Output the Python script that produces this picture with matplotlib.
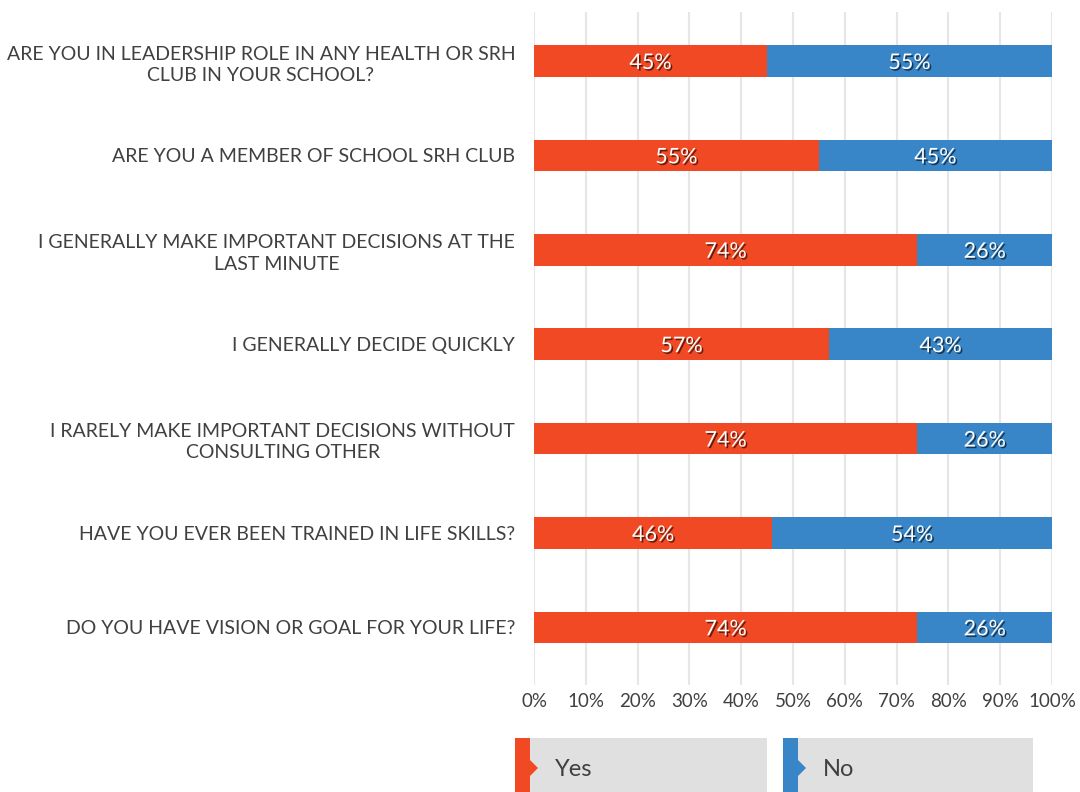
import numpy as np
import matplotlib.pyplot as plt
import matplotlib.patheffects as pe
from matplotlib.patches import Rectangle, Polygon

# --- Dados ---
questions = [
    'ARE YOU IN LEADERSHIP ROLE IN ANY HEALTH OR SRH\nCLUB IN YOUR SCHOOL?',
    'ARE YOU A MEMBER OF SCHOOL SRH CLUB',
    'I GENERALLY MAKE IMPORTANT DECISIONS AT THE\nLAST MINUTE',
    'I GENERALLY DECIDE QUICKLY',
    'I RARELY MAKE IMPORTANT DECISIONS WITHOUT\nCONSULTING OTHER',
    'HAVE YOU EVER BEEN TRAINED IN LIFE SKILLS?',
    'DO YOU HAVE VISION OR GOAL FOR YOUR LIFE?',
]
yes_pct = [45, 55, 74, 57, 74, 46, 74]
no_pct = [55, 45, 26, 43, 26, 54, 26]
series_names = ['Yes', 'No']
x_ticks = [0, 10, 20, 30, 40, 50, 60, 70, 80, 90, 100]

RED = '#F04923'
BLUE = '#3886C8'
TEXT = '#404040'
W, H = 1080, 792

plt.rcParams['font.family'] = ['Lato', 'DejaVu Sans']

fig = plt.figure(figsize=(W / 100, H / 100), dpi=100)
ax = fig.add_axes([534 / W, 1 - 685 / H, (1052 - 534) / W, (685 - 12) / H])

y = np.arange(len(questions))
bar_h = 0.335
ax.barh(y, yes_pct, height=bar_h, color=RED, zorder=3)
ax.barh(y, no_pct, left=yes_pct, height=bar_h, color=BLUE, zorder=3)

shadow = [pe.SimplePatchShadow(offset=(1.2, -1.2), shadow_rgbFace='black', alpha=0.6), pe.Normal()]
for i in range(len(questions)):
    ax.text(yes_pct[i] / 2, y[i] + 0.02, f'{yes_pct[i]}%', ha='center', va='center',
            color='white', fontsize=15.5, path_effects=shadow, zorder=4)
    ax.text(yes_pct[i] + no_pct[i] / 2, y[i] + 0.02, f'{no_pct[i]}%', ha='center', va='center',
            color='white', fontsize=15.5, path_effects=shadow, zorder=4)

ax.set_xlim(0, 100)
ax.set_ylim(len(questions) - 1 + 0.61, -0.52)
ax.set_xticks(x_ticks)
ax.set_xticklabels([f'{t}%' for t in x_ticks], fontsize=13.5, color=TEXT)
ax.set_yticks(y)
ax.set_yticklabels(questions, fontsize=14, color=TEXT, linespacing=1.3)
for lbl in ax.get_yticklabels():
    lbl.set_multialignment('center')
ax.tick_params(axis='both', length=0)
ax.tick_params(axis='x', pad=6)
ax.tick_params(axis='y', pad=13.5)
ax.grid(axis='x', color='#e6e6e6', lw=1.5, zorder=0)
for s in ax.spines.values():
    s.set_visible(False)

# Legenda manual (caixas cinzas com faixa colorida)
def px(x, yy):
    return x / W, 1 - yy / H

for name, color, x0, x1 in [(series_names[0], RED, 515, 767), (series_names[1], BLUE, 783, 1033)]:
    bx, by = px(x0, 800)
    fig.patches.append(Rectangle((bx, by), (x1 - x0) / W, 62 / H, transform=fig.transFigure,
                                 facecolor='#e0e0e0', edgecolor='none'))
    fig.patches.append(Rectangle((bx, by), 15 / W, 62 / H, transform=fig.transFigure,
                                 facecolor=color, edgecolor='none'))
    tri = [px(x0 + 15, 760), px(x0 + 23, 768), px(x0 + 15, 776)]
    fig.patches.append(Polygon(tri, closed=True, transform=fig.transFigure,
                               facecolor=color, edgecolor='none'))
    tx, ty = px(x0 + 40, 769)
    fig.text(tx, ty, name, fontsize=17, color=TEXT, va='center', ha='left')

fig.savefig('out.png', dpi=100)
